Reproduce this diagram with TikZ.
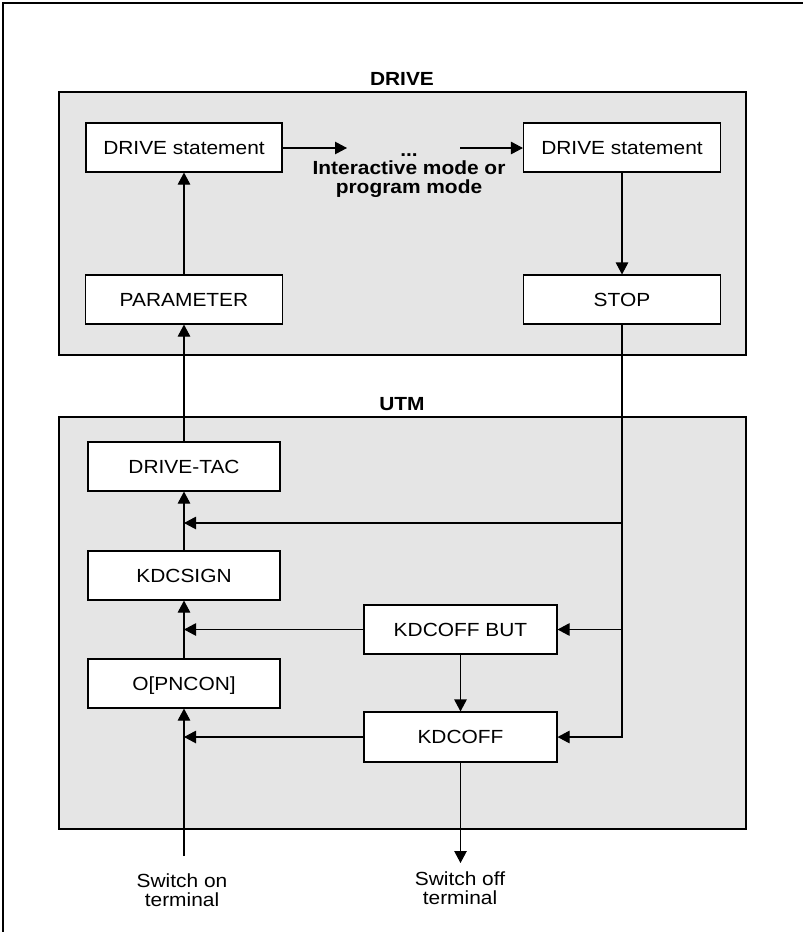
\documentclass[tikz,border=0pt]{standalone}
\usepackage{fontspec}
\setmainfont{Liberation Sans}[FakeStretch=1.1]
\usetikzlibrary{arrows.meta}
\definecolor{panel}{HTML}{E5E5E5}
\tikzset{
  diag/.style={x=1pt,y=-1pt,line width=1.1pt},
  boxnode/.style={draw,fill=white,line width=1.1pt,inner sep=0pt,text height=13.6pt,text depth=0pt,
    font=\fontsize{19}{17}\selectfont},
  panelbox/.style={draw,fill=panel,line width=1.1pt},
  title/.style={anchor=base,inner sep=0pt,font=\fontsize{19}{17}\selectfont\bfseries},
  multititle/.style={anchor=north,inner sep=0pt,align=center,font=\fontsize{19}{18.5}\selectfont\bfseries},
  multilbl/.style={anchor=north,inner sep=0pt,align=center,font=\fontsize{19}{18.5}\selectfont},
  arr/.style={-{Triangle[length=12pt,width=12.5pt]}},
  conn/.style={line width=1.1pt}
}
\begin{document}
\begin{tikzpicture}[diag]
\useasboundingbox (0,0) rectangle (803,932);
% outer frame (left and top only)
\draw[line width=1.4pt] (3,932) -- (3,3) -- (803,3);

% panels
\draw[panelbox] (59,92) rectangle (746,355);
\draw[panelbox] (59,417) rectangle (746,829);
\node[title] (tdrive) at (402,85) {DRIVE};
\node[title] (tutm) at (402,410) {UTM};

% DRIVE boxes
\node[boxnode,minimum width=196pt,minimum height=49pt] (ds1) at (184,147.5) {DRIVE statement};
\node[boxnode,minimum width=197pt,minimum height=49pt] (ds2) at (622,147.5) {DRIVE statement};
\node[boxnode,minimum width=197pt,minimum height=49pt] (par) at (184,299.5) {PARAMETER};
\node[boxnode,minimum width=197pt,minimum height=49pt] (stop) at (622,299.5) {STOP};

% mode label
\node[title] (dots) at (409,156) {...};
\node[multititle] (mode) at (409,160.5) {Interactive mode or\\program mode};

% UTM boxes
\node[boxnode,minimum width=192pt,minimum height=49pt] (tac) at (184,466.5) {DRIVE-TAC};
\node[boxnode,minimum width=192pt,minimum height=49pt] (sign) at (184,575.5) {KDCSIGN};
\node[boxnode,minimum width=192pt,minimum height=49pt] (pncon) at (184,683.5) {O[PNCON]};
\node[boxnode,minimum width=193pt,minimum height=49pt] (but) at (460.5,629.5) {KDCOFF BUT};
\node[boxnode,minimum width=193pt,minimum height=50pt] (off) at (460.5,737) {KDCOFF};

% bottom labels
\node[multilbl] (son) at (182,873.5) {Switch on\\terminal};
\node[multilbl] (soffl) at (460,871.5) {Switch off\\terminal};

% coordinates
\coordinate (a1) at (347,148);
\coordinate (a2) at (460,148);
\coordinate (j1) at (622,523);
\coordinate (k1) at (184,523);
\coordinate (sonend) at (184,856);
\coordinate (soff) at (460.5,863);

% connectors
\draw[conn,arr] (ds1.east |- a1) -- (a1);
\draw[conn,arr] (a2) -- (a2 -| ds2.west);
\draw[conn,arr] (ds2.south) -- (stop.north);
\draw[conn,arr] (par.north) -- (ds1.south);
\draw[conn,arr] (tac.north) -- (par.south);
\draw[conn,arr] (sign.north) -- (tac.south);
\draw[conn,arr] (pncon.north) -- (sign.south);
\draw[conn,arr] (sonend) -- (pncon.south);
\draw[conn,arr] (stop.south) |- (off.east);
\draw[conn,arr] (j1) -- (k1);
\draw[conn,arr] (stop.south |- but.east) -- (but.east);
\draw[conn,arr] (but.west) -- (but.west -| pncon.north);
\draw[conn,arr] (off.west) -- (off.west -| pncon.south);
\draw[conn,arr] (but.south) -- (off.north);
\draw[conn,arr] (off.south) -- (soff);
\end{tikzpicture}
\end{document}
